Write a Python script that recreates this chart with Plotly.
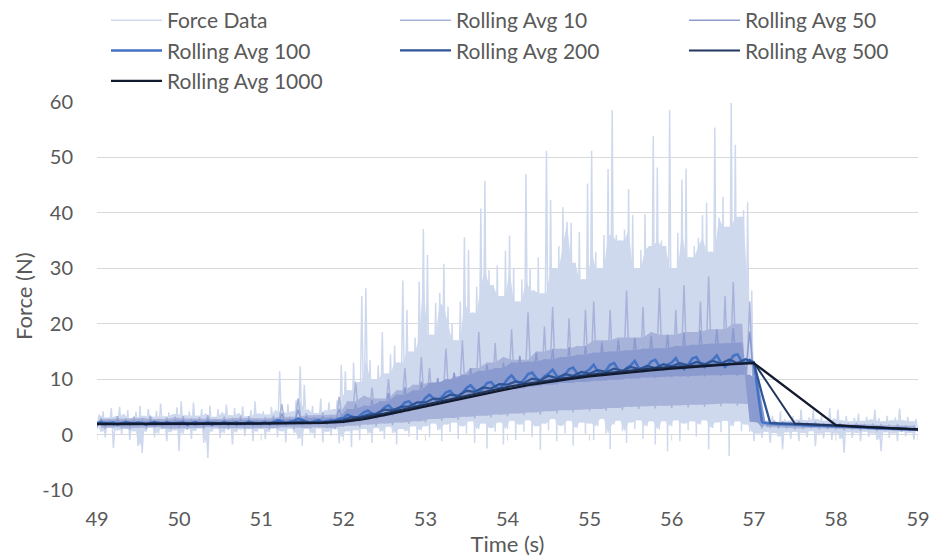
import numpy as np
import plotly.graph_objects as go

# ---------------- data ----------------
t_start, t_end = 49.0, 59.0

# Force data: local peaks (t = s + 0.025 + 0.05j) and troughs (t = s + 0.05j)
force_high = [
    3.6, 4.2, 3.1, 4.8, 3.3, 5.0, 3.7, 4.4, 3.0, 4.1, 5.2, 3.4, 4.6, 3.2, 4.3, 5.6, 3.3, 4.0, 3.7, 4.9,
    6.0, 3.5, 4.2, 5.8, 3.4, 4.6, 3.8, 5.2, 3.2, 4.6, 4.0, 5.4, 3.5, 4.8, 3.9, 5.1, 3.3, 4.4, 6.0, 3.8,
    4.2, 3.6, 5.0, 4.4, 11.4, 4.0, 5.5, 4.2, 6.2, 12.3, 9.0, 4.5, 5.2, 3.9, 6.5, 4.4, 5.8, 4.6, 6.2, 12.6,
    11.4, 8.0, 13.0, 9.5, 25.0, 26.4, 13.5, 10.0, 12.5, 18.5, 11.0, 14.5, 16.0, 13.0, 27.8, 22.5, 15.0, 17.5, 27.6, 37.1,
    32.4, 18.0, 23.8, 25.6, 30.8, 23.1, 20.0, 17.0, 24.0, 35.6, 33.3, 22.0, 26.7, 40.8, 45.8, 29.7, 27.0, 30.5, 25.0, 33.2,
    35.9, 29.9, 24.0, 28.0, 47.0, 30.0, 26.0, 32.0, 25.5, 51.2, 42.3, 30.0, 34.0, 41.0, 38.4, 38.2, 31.0, 36.6, 28.0, 45.3,
    51.2, 33.0, 30.0, 36.0, 47.9, 58.6, 36.0, 35.0, 37.0, 44.3, 39.6, 30.0, 33.3, 39.8, 34.0, 53.8, 48.2, 35.0, 34.0, 58.6,
    30.0, 36.4, 46.0, 48.0, 32.0, 34.0, 35.5, 39.6, 41.8, 33.0, 55.4, 39.1, 42.9, 37.5, 59.8, 52.3, 39.3, 40.5, 41.9, 26.0,
    3.2, 2.4, 3.0, 2.6, 3.4, 2.3, 4.2, 2.8, 2.5, 3.3, 2.7, 4.5, 2.6, 3.1, 4.5, 2.8, 3.4, 2.5, 4.8, 2.9,
    4.5, 2.6, 3.4, 2.4, 3.0, 3.8, 2.5, 3.2, 2.7, 4.5, 3.0, 2.4, 3.4, 2.6, 3.1, 4.7, 2.6, 3.2, 2.4, 2.8,
]
force_low = [
    1.0, 0.5, -0.5, 1.2, -2.4, 0.8, 0.0, 1.0, -1.0, 0.6, -2.1, -3.3, 0.5, 1.2, -0.5, 0.2, 1.0, -1.2, 0.4, 0.8,
    -3.0, 0.2, 1.0, -0.8, 0.6, 1.1, -1.5, -4.2, 0.5, 1.0, -0.6, 0.3, 1.2, -1.8, 0.4, 0.9, -0.3, 1.0, -1.2, 0.5,
    1.0, -0.8, 0.4, 1.2, -0.5, 0.6, -1.4, 1.0, 0.3, -0.8, -2.0, 1.0, 0.2, -0.6, 1.1, -1.4, 0.5, -0.2, 1.0, -1.6,
    -0.5, 0.6, -2.3, 0.8, -1.0, 1.0, 0.2, -1.5, 1.2, 0.5, -0.8, 1.4, 0.3, -1.8, 1.0, 0.6, -0.4, 1.5, -1.0, 0.8,
    1.5, -0.5, 2.0, 0.8, -1.2, 1.8, 0.4, 2.2, -0.8, 1.5, 0.2, 2.4, -1.5, 1.0, 2.0, -2.5, 1.2, 0.5, 2.2, -1.8,
    1.0, 2.5, -1.0, 1.8, 0.5, 2.6, -0.5, 1.5, -2.8, 2.0, 0.8, 2.8, -1.2, 1.6, 0.2, 2.5, -2.0, 1.2, 2.2, 0.0,
    2.0, -1.0, 1.5, 2.8, 0.2, -2.6, 1.8, 2.5, 0.6, -1.5, 2.2, 1.0, 2.6, -0.8, 1.5, 2.4, -1.8, 0.9, 2.4, -3.0,
    1.5, 2.6, -1.2, 2.0, 0.8, 2.4, -0.4, 1.8, 2.6, -2.7, 1.2, 2.2, 0.4, 2.5, -3.9, 1.5, 2.4, 0.6, 1.8, 0.5,
    -1.2, 0.2, -0.6, 0.5, -1.5, 0.3, -0.4, -2.7, 0.4, -0.8, 0.5, -1.2, 0.3, -0.5, 0.6, -2.1, 0.2, -0.7, 0.4, -1.0,
    0.2, -0.8, -3.3, 0.4, -0.6, 0.3, -1.2, 0.5, -0.4, 0.2, -1.0, -3.0, 0.4, -0.6, 0.2, -1.2, 0.5, -0.3, 0.3, -0.9,
    0.4,
]

# Rolling Avg 10: peaks (t = s + 0.05 + 0.1j) and troughs (t = s + 0.1j)
r10_high = [
    3.0, 2.8, 3.3, 2.9, 3.2, 3.0, 3.4, 2.8, 3.1, 3.2,
    3.3, 2.9, 3.1, 3.5, 2.8, 3.2, 3.0, 3.4, 3.3, 2.9,
    3.1, 3.4, 5.5, 3.2, 6.5, 3.8, 3.5, 4.0, 3.6, 6.8,
    6.0, 9.5, 7.0, 8.5, 6.5, 10.0, 8.0, 12.0, 9.0, 14.0,
    12.0, 9.5, 15.5, 10.5, 17.0, 12.0, 18.5, 13.0, 16.5, 14.0,
    19.0, 13.5, 22.0, 15.0, 19.5, 23.0, 15.5, 21.0, 16.0, 22.5,
    24.0, 17.0, 22.5, 17.5, 26.0, 17.5, 23.0, 18.5, 26.5, 18.0,
    22.5, 27.0, 18.5, 24.0, 28.5, 19.0, 25.0, 27.5, 20.0, 24.0,
    2.6, 2.3, 2.5, 2.3, 2.2, 2.3, 2.1, 2.2, 2.0, 2.1,
    2.0, 1.9, 2.0, 1.8, 1.9, 1.8, 1.7, 1.8, 1.6, 1.6,
]
r10_low = [
    1.2, 1.0, 1.3, 1.1, 0.9, 1.2, 1.0, 1.3, 1.1, 1.0,
    1.1, 0.9, 1.2, 1.0, 1.3, 1.1, 0.9, 1.2, 1.0, 1.1,
    1.2, 1.0, 1.1, 1.3, 1.0, 1.2, 1.1, 1.3, 1.2, 1.0,
    1.4, 1.6, 1.3, 1.8, 1.5, 2.0, 1.7, 2.2, 1.9, 2.4,
    2.2, 2.8, 2.5, 3.0, 2.7, 3.2, 2.9, 3.4, 3.1, 3.6,
    3.3, 3.8, 3.5, 4.0, 3.6, 4.2, 3.8, 4.4, 4.0, 4.5,
    4.2, 4.6, 4.3, 4.8, 4.4, 5.0, 4.6, 5.1, 4.7, 5.2,
    4.8, 5.3, 4.9, 5.4, 5.0, 5.5, 5.1, 5.6, 5.2, 5.5,
    5.0, 1.2, 1.3, 1.1, 1.2, 1.0, 1.1, 1.2, 1.0, 1.1,
    1.0, 0.9, 1.0, 0.8, 0.9, 0.7, 0.8, 0.8, 0.6, 0.7,
    0.6,
]

# Rolling Avg 50: peaks (t = s + 0.05 + 0.1j) and troughs (t = s + 0.1j)
r50_high = [
    2.6, 2.5, 2.7, 2.5, 2.6, 2.5, 2.7, 2.4, 2.6, 2.6,
    2.7, 2.5, 2.6, 2.8, 2.5, 2.6, 2.5, 2.7, 2.7, 2.5,
    2.6, 2.8, 3.8, 2.8, 4.5, 3.3, 3.0, 3.3, 3.1, 4.6,
    4.6, 5.5, 5.2, 6.2, 6.0, 7.5, 7.2, 8.5, 8.0, 9.5,
    9.3, 10.2, 10.0, 11.2, 10.8, 12.0, 11.5, 12.6, 12.0, 13.0,
    13.0, 14.2, 13.2, 14.8, 13.6, 15.4, 14.0, 15.8, 14.4, 16.0,
    14.8, 16.6, 15.0, 17.0, 15.2, 17.4, 15.5, 17.8, 15.6, 18.0,
    16.0, 18.4, 16.2, 18.8, 16.4, 19.0, 16.5, 19.2, 16.6, 18.6,
    2.3, 2.2, 2.1, 2.1, 2.0, 2.0, 1.9, 1.9, 1.8, 1.8,
    1.7, 1.6, 1.6, 1.5, 1.5, 1.4, 1.3, 1.3, 1.2, 1.2,
]
r50_low = [
    1.6, 1.5, 1.7, 1.6, 1.5, 1.7, 1.6, 1.5, 1.6, 1.6,
    1.5, 1.6, 1.7, 1.5, 1.6, 1.7, 1.5, 1.6, 1.7, 1.6,
    1.6, 1.7, 1.6, 1.7, 1.8, 1.7, 1.8, 1.9, 1.8, 1.9,
    2.0, 2.2, 2.3, 2.6, 2.8, 3.2, 3.4, 3.8, 4.1, 4.5,
    4.8, 5.2, 5.5, 5.9, 6.2, 6.6, 6.9, 7.2, 7.5, 7.8,
    7.9, 8.2, 8.3, 8.6, 8.7, 9.0, 9.0, 9.3, 9.3, 9.5,
    9.5, 9.7, 9.7, 9.9, 9.9, 10.1, 10.1, 10.3, 10.2, 10.4,
    10.3, 10.5, 10.4, 10.6, 10.5, 10.7, 10.6, 10.8, 10.6, 10.8,
    10.0, 1.6, 1.6, 1.5, 1.5, 1.5, 1.4, 1.4, 1.4, 1.3,
    1.3, 1.2, 1.2, 1.1, 1.1, 1.0, 1.0, 1.0, 0.9, 0.9,
    0.9,
]

# Rolling Avg 100 (every 0.05 s)
r100 = [
    2.1, 2.3, 1.9, 2.0, 2.2, 1.8, 2.1, 2.3, 2.0, 1.9, 2.2, 2.0, 1.8, 2.1, 2.3, 2.0, 1.9, 2.2, 2.1, 1.9,
    2.0, 2.2, 1.8, 2.1, 2.3, 1.9, 2.0, 2.2, 1.8, 2.1, 2.0, 2.3, 1.9, 2.1, 2.2, 1.9, 2.0, 2.3, 2.1, 1.9,
    2.1, 2.2, 1.9, 2.3, 2.6, 2.4, 2.1, 2.3, 2.5, 2.9, 2.7, 2.3, 2.2, 2.4, 2.6, 2.3, 2.4, 2.6, 2.5, 2.9,
    3.0, 3.6, 3.3, 2.8, 3.4, 4.0, 4.3, 3.8, 3.5, 4.1, 4.9, 5.3, 4.6, 4.3, 5.0, 5.8, 6.0, 5.3, 5.0, 5.6,
    6.6, 7.2, 6.5, 6.1, 6.8, 7.6, 7.9, 7.1, 6.8, 7.5, 8.4, 8.9, 8.1, 7.6, 8.3, 9.3, 9.5, 8.6, 8.3, 9.0,
    10.0, 10.7, 9.7, 9.2, 9.9, 10.9, 11.2, 10.2, 9.7, 10.5, 11.0, 11.7, 10.6, 10.0, 10.8, 11.8, 12.1, 11.0, 10.5, 11.3,
    11.8, 12.6, 11.4, 10.8, 11.6, 12.6, 12.9, 11.7, 11.2, 12.0, 12.5, 13.3, 12.0, 11.4, 12.2, 13.2, 13.5, 12.3, 11.8, 12.6,
    13.0, 13.8, 12.5, 11.8, 12.6, 13.7, 14.0, 12.8, 12.2, 13.0, 13.5, 14.3, 13.0, 12.2, 13.0, 14.2, 14.5, 13.3, 12.9, 13.5,
    13.0, 7.4, 2.2, 2.1, 2.0, 2.0, 1.9, 1.9, 1.85, 1.8, 1.8, 1.75, 1.7, 1.7, 1.65, 1.6, 1.6, 1.55, 1.55, 1.5,
    1.5, 1.45, 1.45, 1.4, 1.35, 1.35, 1.3, 1.25, 1.2, 1.2, 1.15, 1.1, 1.1, 1.05, 1.0, 1.0, 0.95, 0.95, 0.9, 0.9,
    0.9,
]

# Rolling Avg 200 (every 0.1 s)
r200 = [
    2.0, 2.1, 1.9, 2.0, 2.1, 2.0, 1.9, 2.1, 2.0, 2.0,
    2.1, 2.0, 1.9, 2.0, 2.1, 2.0, 2.1, 1.9, 2.0, 2.1,
    2.0, 2.1, 2.2, 2.1, 2.3, 2.4, 2.2, 2.3, 2.2, 2.5,
    2.7, 3.2, 3.1, 3.6, 3.8, 4.5, 4.4, 5.0, 5.1, 5.8,
    5.8, 6.5, 6.4, 7.2, 7.0, 7.9, 7.7, 8.5, 8.3, 9.1,
    9.0, 9.6, 9.3, 10.1, 9.8, 10.6, 10.2, 10.9, 10.6, 11.3,
    11.0, 11.6, 11.3, 11.9, 11.5, 12.2, 11.8, 12.4, 12.0, 12.7,
    12.3, 12.9, 12.5, 13.1, 12.7, 13.3, 12.8, 13.5, 12.9, 13.6,
    13.0, 7.3, 2.1, 2.0, 1.95, 1.9, 1.85, 1.8, 1.75, 1.7,
    1.6, 1.55, 1.5, 1.4, 1.35, 1.3, 1.2, 1.1, 1.05, 1.0,
    0.95,
]

# Rolling Avg 500 and 1000 (every 0.25 s)
r500 = [
    1.95, 1.95, 2.0, 1.95, 2.0, 1.95, 2.0, 2.0, 2.05, 2.1, 2.1, 2.2,
    2.5, 3.1, 3.8, 4.6, 5.4, 6.3, 7.1, 7.9, 8.6, 9.2, 9.8, 10.3, 10.8, 11.2, 11.6, 11.9, 12.2, 12.4, 12.6, 12.8,
    13.0, 7.5, 2.0, 1.8, 1.6, 1.45, 1.3, 1.1, 0.95,
]
r1000 = [
    1.9, 1.9, 1.9, 1.9, 1.95, 1.95, 1.95, 2.0, 2.0, 2.0, 2.05, 2.1,
    2.3, 2.8, 3.5, 4.3, 5.1, 5.9, 6.7, 7.5, 8.2, 8.9, 9.5, 10.0, 10.5, 10.9, 11.3, 11.6, 11.9, 12.2, 12.4, 12.7,
    12.9, 10.1, 7.3, 4.5, 1.7, 1.45, 1.3, 1.1, 0.95,
]

x_ticks = [49, 50, 51, 52, 53, 54, 55, 56, 57, 58, 59]
y_ticks = [-10, 0, 10, 20, 30, 40, 50, 60]


def interleave(low, high):
    out = []
    for lo, hi in zip(low, high):
        out.extend([lo, hi])
    out.append(low[-1])
    return out


def dense_band(low, high):
    """Solid core of a noisy trace: where neighbouring excursions overlap."""
    n = len(high)
    top = [min(high[max(i - 1, 0)], high[i], high[min(i + 1, n - 1)]) for i in range(n)]
    bot = [max(low[i], low[i + 1]) for i in range(n)]
    return bot, top


def times(values):
    return np.linspace(t_start, t_end, len(values))


FONT = "Lato, 'Open Sans', sans-serif"
GREY = "#595959"
GRID = "#D9D9D9"

noisy = [
    ("Force Data", force_low, force_high, "#CFD9EE", 1.5, "legend", 1),
    ("Rolling Avg 10", r10_low, r10_high, "#A8B3DA", 1.5, "legend2", 1),
    ("Rolling Avg 50", r50_low, r50_high, "#8B9BCF", 1.5, "legend3", 1),
]
smooth = [
    ("Rolling Avg 100", r100, "#4472C4", 2.5, "legend", 2),
    ("Rolling Avg 200", r200, "#2F5597", 2.25, "legend2", 2),
    ("Rolling Avg 500", r500, "#22375F", 2.0, "legend3", 2),
    ("Rolling Avg 1000", r1000, "#121A2E", 2.25, "legend", 3),
]

fig = go.Figure()
for name, low, high, color, width, leg, rank in noisy:
    vals = interleave(low, high)
    tx = times(vals)
    bot, top = dense_band(low, high)
    fig.add_trace(go.Scatter(x=tx[1::2], y=bot, mode="lines", line=dict(width=0),
                             showlegend=False, hoverinfo="skip"))
    fig.add_trace(go.Scatter(x=tx[1::2], y=top, mode="lines", line=dict(width=0),
                             fill="tonexty", fillcolor=color,
                             showlegend=False, hoverinfo="skip"))
    fig.add_trace(go.Scatter(x=tx, y=vals, mode="lines", name=name,
                             line=dict(color=color, width=width),
                             legend=leg, legendgroup=name, legendrank=rank,
                             hoverinfo="skip"))

for name, vals, color, width, leg, rank in smooth:
    fig.add_trace(go.Scatter(x=times(vals), y=vals, mode="lines", name=name,
                             line=dict(color=color, width=width),
                             legend=leg, legendgroup=name, legendrank=rank,
                             hoverinfo="skip"))

# horizontal axis crosses at y = 0: small tick marks below the zero line
for xv in x_ticks:
    fig.add_shape(type="line", xref="x", yref="y", x0=xv, x1=xv,
                  ysizemode="pixel", yanchor=0, y0=0, y1=-6,
                  line=dict(color=GRID, width=1), layer="below")

W, H = 935, 559
ML, MR, MT, MB = 97, 17, 102, 69
leg_font = dict(family=FONT, size=21, color=GREY)
leg_common = dict(font=leg_font, xref="container", yref="container", xanchor="left",
                  yanchor="top", orientation="v", itemwidth=51, tracegroupgap=0,
                  bgcolor="rgba(0,0,0,0)", itemclick=False, itemdoubleclick=False)

fig.add_annotation(text="Force (N)", textangle=-90, xref="paper", yref="paper",
                   x=(23 - ML) / (W - ML - MR), y=0.5, xanchor="center", yanchor="middle",
                   showarrow=False, font=dict(family=FONT, size=22, color=GREY))

fig.update_layout(
    width=W, height=H,
    margin=dict(l=ML, r=MR, t=MT, b=MB, autoexpand=False),
    paper_bgcolor="white", plot_bgcolor="white",
    font=dict(family=FONT, color=GREY),
    legend=dict(x=106 / W, y=1 + 3 / H, **leg_common),
    legend2=dict(x=395 / W, y=1 + 3 / H, **leg_common),
    legend3=dict(x=684 / W, y=1 + 3 / H, **leg_common),
    xaxis=dict(range=[x_ticks[0], x_ticks[-1]], tickvals=x_ticks, showgrid=False,
               zeroline=False, showline=False, ticks="", automargin=False,
               tickfont=dict(family=FONT, size=20, color=GREY), ticklabelstandoff=15,
               title=dict(text="Time (s)", font=dict(family=FONT, size=22, color=GREY),
                          standoff=2)),
    yaxis=dict(range=[y_ticks[0], y_ticks[-1]], tickvals=y_ticks,
               ticktext=[str(v) for v in y_ticks], showgrid=True,
               gridcolor=GRID, gridwidth=1.3, zeroline=True, zerolinecolor=GRID,
               zerolinewidth=1.3, showline=False, ticks="", automargin=False,
               tickfont=dict(family=FONT, size=20, color=GREY), ticklabelstandoff=23),
    showlegend=True,
)

fig.write_html("out.html")
